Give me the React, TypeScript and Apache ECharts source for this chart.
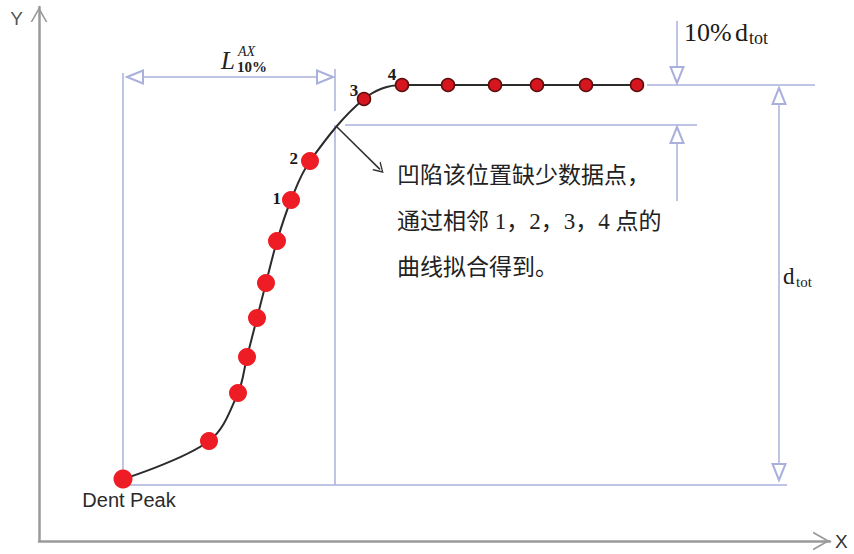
import React, { useEffect, useRef } from "react";
import * as echarts from "echarts";

// Measured dent profile: axial position (x) and depth (y), Dent Peak first.
// Depth 100 is the undisturbed level, the total dent depth d_tot.
const profileX = [0, 21.5, 28.75, 31, 33.5, 35.75, 38.5, 42, 46.75, 60.25, 69.75, 81.25, 93, 103.5, 115.75, 128.5];
const profileY = [1.5, 11, 23, 32, 41.75, 50.5, 61, 71.25, 81, 96.5, 100, 100, 100, 100, 100, 100];
const pointTags = ["Dent Peak", "", "", "", "", "", "", "1", "2", "3", "4", "", "", "", "", ""];
// 1 = point on the shoulder of the dent (drawn with the small outlined marker)
const shoulderFlags = [0, 0, 0, 0, 0, 0, 0, 0, 0, 1, 1, 1, 1, 1, 1, 1];

const dTot = 100;
const level90 = dTot * 0.9;
const l10 = 53; // axial distance from the peak to the 90 % depth crossing

const axisX = { min: -21, max: 176.75 };
const axisY = { min: -14, max: 119.5 };

const GUIDE = "#aab0dc";
const RED = "#ee1c24";
const SERIF = "'Liberation Serif', 'Times New Roman', serif";

const tagOffset: Record<string, number[]> = {
  "1": [-1, -2],
  "2": [-3, -3],
  "3": [1.5, -9],
  "4": [1.5, -11],
};

// dimension / extension line with optional hollow arrowheads
const guide = (a: number[], b: number[], arrowA = false, arrowB = false) => [
  { coord: a, symbol: arrowA ? "emptyTriangle" : "none" },
  { coord: b, symbol: arrowB ? "emptyTriangle" : "none" },
];

const chevronUp = "path://M0,15 L8.5,0 L17,15 L15.2,15 L8.5,3.2 L1.8,15 Z";
const arrowHead = "path://M0,10 L6,0 L12,10 L10.4,10 L6,2.6 L1.6,10 Z";

export default function App() {
  const ref = useRef<HTMLDivElement>(null);

  useEffect(() => {
    if (!ref.current) return;
    const chart = echarts.init(ref.current, null, { renderer: "svg" });

    const points = profileX.map((x, i) => {
      const shoulder = shoulderFlags[i] === 1;
      const tag = pointTags[i];
      const item: any = {
        value: [x, profileY[i]],
        symbolSize: i === 0 ? 19 : shoulder ? 13 : 18,
        itemStyle: shoulder
          ? { color: "#d5161e", borderColor: "#5c0d0d", borderWidth: 1.5 }
          : { color: RED, borderWidth: 0 },
      };
      if (i === 0) {
        item.label = {
          show: true,
          formatter: tag,
          position: "bottom",
          distance: 1.5,
          offset: [6, 0],
          fontFamily: "'Liberation Sans', Arial, sans-serif",
          fontSize: 20,
          color: "#2a2a2a",
        };
      } else if (tag) {
        item.label = {
          show: true,
          formatter: tag,
          position: "left",
          distance: 0,
          offset: tagOffset[tag],
          fontFamily: SERIF,
          fontWeight: "bold",
          fontSize: 17,
          color: "#1a1a1a",
        };
      }
      return item;
    });

    const text = (x: number, y: number, s: string, extra: any) => ({
      type: "text",
      x,
      y,
      style: { text: s, fontFamily: SERIF, fill: "#1a1a1a", textVerticalAlign: "middle", ...extra },
    });

    chart.setOption({
      animation: false,
      backgroundColor: "#ffffff",
      grid: { left: 39, top: 7, width: 791, height: 534, containLabel: false },
      xAxis: {
        type: "value",
        min: axisX.min,
        max: axisX.max,
        name: "X",
        nameLocation: "end",
        nameGap: 5,
        nameTextStyle: { fontFamily: "'Liberation Sans', Arial, sans-serif", fontSize: 19, color: "#333", verticalAlign: "middle" },
        axisLine: {
          show: true,
          onZero: false,
          symbol: ["none", chevronUp],
          symbolSize: [19, 17],
          symbolOffset: [0, -8.5],
          lineStyle: { color: "#9a9a9a", width: 2.5 },
        },
        axisTick: { show: false },
        axisLabel: { show: false },
        splitLine: { show: false },
      },
      yAxis: {
        type: "value",
        min: axisY.min,
        max: axisY.max,
        name: "Y",
        nameLocation: "end",
        nameGap: -11,
        nameTextStyle: {
          fontFamily: "'Liberation Sans', Arial, sans-serif",
          fontSize: 19,
          color: "#555",
          align: "right",
          verticalAlign: "middle",
          padding: [0, 16, 0, 0],
        },
        axisLine: {
          show: true,
          onZero: false,
          symbol: ["none", chevronUp],
          symbolSize: [17, 15],
          symbolOffset: [0, -7.5],
          lineStyle: { color: "#9a9a9a", width: 2.5 },
        },
        axisTick: { show: false },
        axisLabel: { show: false },
        splitLine: { show: false },
      },
      series: [
        {
          name: "guides",
          type: "line",
          data: [],
          silent: true,
          markLine: {
            silent: true,
            symbolSize: [13, 16],
            label: { show: false },
            emphasis: { disabled: true },
            lineStyle: { color: GUIDE, width: 1.5, type: "solid" },
            data: [
              guide([0, 0], [0, 103]),
              guide([3, 102], [l10 - 2.5, 102], true, true),
              guide([l10, level90 + 3.5], [l10, 104]),
              guide([l10, 0], [l10, level90]),
              guide([l10 + 2.5, level90], [143.5, level90]),
              guide([131, dTot], [173, dTot]),
              guide([0, 0], [166, 0]),
              guide([138.5, 116], [138.5, dTot + 2.5], false, true),
              guide([138.5, 71], [138.5, level90 - 2.5], false, true),
              guide([164, dTot - 2.75], [164, 3.25], true, true),
            ],
          },
        },
        {
          name: "note",
          type: "line",
          data: [],
          silent: true,
          markLine: {
            silent: true,
            symbol: ["none", arrowHead],
            symbolSize: [12, 10],
            label: { show: false },
            emphasis: { disabled: true },
            lineStyle: { color: "#333", width: 1.6, type: "solid" },
            data: [[{ coord: [53.5, 89.5] }, { coord: [64.25, 78.9] }]],
          },
        },
        {
          name: "profile",
          type: "line",
          smooth: 0.35,
          symbol: "circle",
          showSymbol: true,
          z: 5,
          lineStyle: { color: "#2b2b2b", width: 2 },
          emphasis: { disabled: true },
          data: points,
        },
      ],
      graphic: [
        text(221, 60, "L", { fontStyle: "italic", fontSize: 25, fill: "#222" }),
        text(238, 51, "AX", { fontStyle: "italic", fontSize: 14, fill: "#222" }),
        text(237, 67, "10%", { fontWeight: "bold", fontSize: 15, fill: "#222" }),
        text(684, 32, "10%", { fontSize: 26 }),
        text(735, 32, "d", { fontSize: 26 }),
        text(749, 38, "tot", { fontSize: 18 }),
        text(783, 276, "d", { fontSize: 23 }),
        text(796, 282, "tot", { fontSize: 15 }),
        {
          type: "text",
          x: 397,
          y: 152,
          style: {
            text: "凹陷该位置缺少数据点，\n通过相邻 1，2，3，4 点的\n曲线拟合得到。",
            fontFamily: "'Liberation Serif', 'Noto Sans CJK SC', sans-serif",
            fontSize: 23,
            lineHeight: 46,
            fill: "#222",
            textVerticalAlign: "top",
          },
        },
      ],
    });

    return () => chart.dispose();
  }, []);

  return (
    <div
      ref={ref}
      style={{ position: "fixed", left: 0, top: 0, width: 854, height: 554, background: "#fff" }}
    />
  );
}
